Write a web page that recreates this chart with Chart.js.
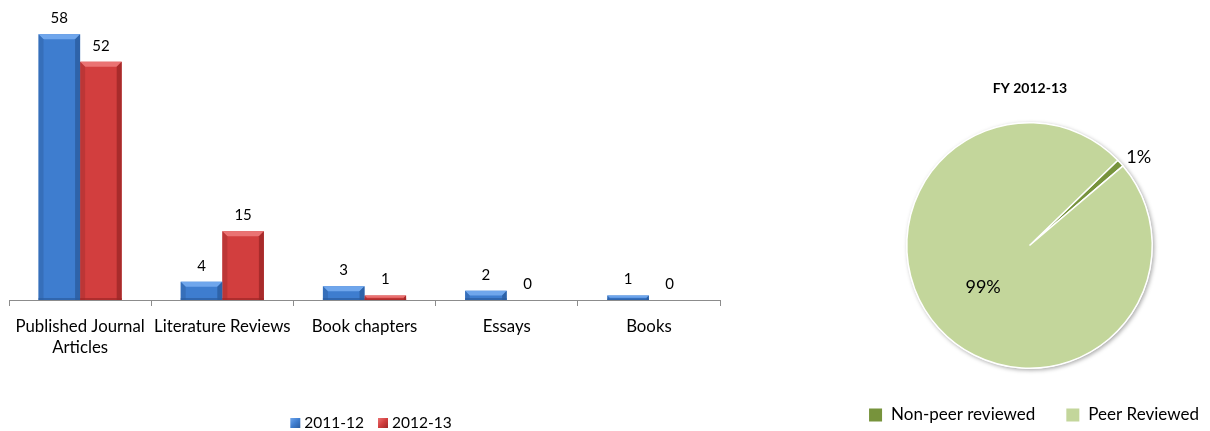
<!DOCTYPE html>
<html>
<head>
<meta charset="utf-8">
<script src="https://cdn.jsdelivr.net/npm/chart.js@4.4.1/dist/chart.umd.min.js"></script>
<style>
  html, body { margin: 0; padding: 0; background: #ffffff; }
  #wrap { position: relative; width: 1210px; height: 431px; overflow: hidden; background: #ffffff; }
  #bars { position: absolute; left: 0; top: 0; }
  #pie { position: absolute; left: 850px; top: 0; }
</style>
</head>
<body>
<div id="wrap">
  <canvas id="bars" width="740" height="431"></canvas>
  <canvas id="pie" width="360" height="431"></canvas>
</div>
<script>
// Publication counts by type, two fiscal years
const categories = [['Published Journal', 'Articles'], 'Literature Reviews', 'Book chapters', 'Essays', 'Books'];
const seriesNames = ['2011-12', '2012-13'];
const values2011 = [58, 4, 3, 2, 1];
const values2012 = [52, 15, 1, 0, 0];

// Review status split for FY 2012-13 (percent)
const pieTitle = 'FY 2012-13';
const pieLabels = ['Non-peer reviewed', 'Peer Reviewed'];
const pieValues = [1, 99];

const FONT = 'Lato, "Open Sans", "DejaVu Sans", sans-serif';

const barPalette = [
  { face: '#3E7DCF', light: '#6FA6EC', dark: '#2B5D9F', edge: '#2F64AA' },
  { face: '#D23E3E', light: '#EA7373', dark: '#9E2727', edge: '#A93030' }
];
const piePalette = ['#77933C', '#C3D69B'];

// Bevel shading, value labels and legend for the bar chart
const barDecor = {
  id: 'barDecor',
  afterDatasetsDraw(chart) {
    const ctx = chart.ctx;
    chart.data.datasets.forEach((ds, di) => {
      const meta = chart.getDatasetMeta(di);
      const pal = barPalette[di];
      meta.data.forEach((bar, i) => {
        const p = bar.getProps(['x', 'y', 'base', 'width'], true);
        const x0 = p.x - p.width / 2, x1 = p.x + p.width / 2;
        const yt = p.y, yb = p.base;
        const h = yb - yt;
        if (h > 0.5) {
          const b = Math.min(5, h / 2);
          ctx.save();
          // top bevel
          ctx.fillStyle = pal.light;
          ctx.beginPath();
          ctx.moveTo(x0, yt); ctx.lineTo(x1, yt); ctx.lineTo(x1 - b, yt + b); ctx.lineTo(x0 + b, yt + b);
          ctx.closePath(); ctx.fill();
          // left side
          ctx.fillStyle = pal.edge;
          ctx.globalAlpha = 0.55;
          ctx.beginPath();
          ctx.moveTo(x0, yt); ctx.lineTo(x0 + b, yt + b); ctx.lineTo(x0 + b, yb); ctx.lineTo(x0, yb);
          ctx.closePath(); ctx.fill();
          // right side
          ctx.fillStyle = pal.dark;
          ctx.globalAlpha = 0.8;
          ctx.beginPath();
          ctx.moveTo(x1, yt); ctx.lineTo(x1 - b, yt + b); ctx.lineTo(x1 - b, yb); ctx.lineTo(x1, yb);
          ctx.closePath(); ctx.fill();
          // bottom edge
          ctx.globalAlpha = 0.7;
          ctx.fillRect(x0, yb - Math.min(2, h / 3), p.width, Math.min(2, h / 3));
          ctx.restore();
        }
        // value label
        ctx.save();
        ctx.font = '15px ' + FONT;
        ctx.fillStyle = '#000000';
        ctx.textAlign = 'center';
        ctx.textBaseline = 'middle';
        ctx.fillText(String(ds.data[i]), p.x, yt - 16);
        ctx.restore();
      });
    });
  },
  afterDraw(chart) {
    const ctx = chart.ctx;
    ctx.save();
    ctx.font = '15.5px ' + FONT;
    ctx.textBaseline = 'middle';
    const box = 10, gapText = 4, gapItem = 14, cy = 423;
    const widths = seriesNames.map(n => ctx.measureText(n).width);
    const total = widths.reduce((a, w) => a + box + gapText + w, 0) + gapItem * (seriesNames.length - 1);
    let x = 371 - total / 2;
    seriesNames.forEach((n, i) => {
      const pal = barPalette[i];
      const g = ctx.createLinearGradient(x, cy - box / 2, x + box, cy + box / 2);
      g.addColorStop(0, pal.light);
      g.addColorStop(0.5, pal.face);
      g.addColorStop(1, pal.dark);
      ctx.fillStyle = g;
      ctx.fillRect(x, cy - box / 2, box, box);
      ctx.fillStyle = '#000000';
      ctx.textAlign = 'left';
      ctx.fillText(n, x + box + gapText, cy);
      x += box + gapText + widths[i] + gapItem;
    });
    ctx.restore();
  }
};

new Chart(document.getElementById('bars'), {
  type: 'bar',
  data: {
    labels: categories,
    datasets: [
      { label: seriesNames[0], data: values2011, backgroundColor: barPalette[0].face, borderWidth: 0 },
      { label: seriesNames[1], data: values2012, backgroundColor: barPalette[1].face, borderWidth: 0 }
    ]
  },
  options: {
    responsive: false,
    animation: false,
    layout: { padding: { left: 9, right: 20, top: 25, bottom: 0 } },
    datasets: { bar: { categoryPercentage: 0.585, barPercentage: 1 } },
    plugins: { legend: { display: false }, tooltip: { enabled: false } },
    scales: {
      x: {
        grid: { display: true, drawOnChartArea: false, drawTicks: true, tickLength: 6, color: '#8C8C8C', offset: true },
        border: { display: true, color: '#8C8C8C' },
        ticks: { font: { family: FONT, size: 16.8, lineHeight: 1.25 }, color: '#000000', padding: 10, maxRotation: 0, autoSkip: false },
        afterFit(scale) { scale.height = 131; }
      },
      y: { display: false, min: 0, max: 60 }
    }
  },
  plugins: [barDecor]
});

// Shadow, percentage labels, title and legend for the pie
const pieDecor = {
  id: 'pieDecor',
  beforeDatasetsDraw(chart) {
    const arc = chart.getDatasetMeta(0).data[0];
    if (!arc) return;
    const p = arc.getProps(['x', 'y', 'outerRadius'], true);
    const ctx = chart.ctx;
    ctx.save();
    ctx.shadowColor = 'rgba(0,0,0,0.35)';
    ctx.shadowBlur = 4;
    ctx.shadowOffsetX = 1.5;
    ctx.shadowOffsetY = 1.5;
    ctx.fillStyle = '#ffffff';
    ctx.beginPath();
    ctx.arc(p.x, p.y, p.outerRadius + 0.5, 0, Math.PI * 2);
    ctx.fill();
    ctx.restore();
  },
  afterDatasetsDraw(chart) {
    const ctx = chart.ctx;
    const meta = chart.getDatasetMeta(0);
    const data = chart.data.datasets[0].data;
    const total = data.reduce((a, v) => a + v, 0);
    ctx.save();
    ctx.font = '18px ' + FONT;
    ctx.fillStyle = '#000000';
    ctx.textBaseline = 'middle';
    meta.data.forEach((arc, i) => {
      const p = arc.getProps(['x', 'y', 'startAngle', 'endAngle', 'outerRadius'], true);
      const mid = (p.startAngle + p.endAngle) / 2;
      const pct = Math.round(data[i] / total * 100);
      const txt = pct + '%';
      if (pct < 5) {
        const r = p.outerRadius + 8;
        ctx.textAlign = 'left';
        ctx.fillText(txt, p.x + Math.cos(mid) * r, p.y + Math.sin(mid) * r);
      } else {
        const r = p.outerRadius * 0.51;
        ctx.textAlign = 'center';
        ctx.fillText(txt, p.x + Math.cos(mid) * r, p.y + Math.sin(mid) * r);
      }
    });
    ctx.restore();
  },
  afterDraw(chart) {
    const ctx = chart.ctx;
    ctx.save();
    ctx.font = 'bold 14px ' + FONT;
    ctx.fillStyle = '#000000';
    ctx.textAlign = 'center';
    ctx.textBaseline = 'middle';
    ctx.fillText(pieTitle, 180, 88);

    ctx.font = '17px ' + FONT;
    const box = 13, gapText = 9, gapItem = 31, cy = 415;
    const widths = pieLabels.map(n => ctx.measureText(n).width);
    const total = widths.reduce((a, w) => a + box + gapText + w, 0) + gapItem * (pieLabels.length - 1);
    let x = 184 - total / 2;
    ctx.textAlign = 'left';
    pieLabels.forEach((n, i) => {
      ctx.fillStyle = piePalette[i];
      ctx.fillRect(x, cy - box / 2, box, box);
      ctx.fillStyle = '#000000';
      ctx.fillText(n, x + box + gapText, cy);
      x += box + gapText + widths[i] + gapItem;
    });
    ctx.restore();
  }
};

new Chart(document.getElementById('pie'), {
  type: 'pie',
  data: {
    labels: pieLabels,
    datasets: [{ data: pieValues, backgroundColor: piePalette, borderColor: '#ffffff', borderWidth: 1.5 }]
  },
  options: {
    responsive: false,
    animation: false,
    rotation: 46,
    layout: { padding: { left: 56, right: 57, top: 122, bottom: 62 } },
    plugins: { legend: { display: false }, tooltip: { enabled: false } }
  },
  plugins: [pieDecor]
});
</script>
</body>
</html>
